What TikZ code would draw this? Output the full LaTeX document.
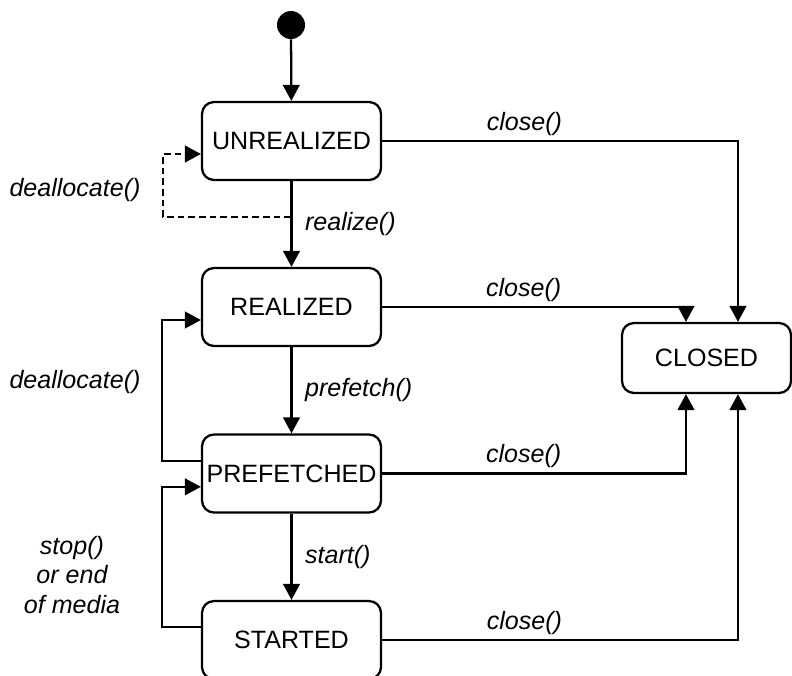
\documentclass[tikz,border=0pt]{standalone}
\usepackage{fontspec}
\setmainfont{Liberation Sans}
\usetikzlibrary{arrows.meta}

\begin{document}
\begin{tikzpicture}[x=0.75pt, y=-0.75pt,
    state/.style={draw, line width=1.7pt, rounded corners=9pt, inner sep=0pt,
      minimum width=134.25pt, minimum height=58.5pt,
      font=\fontsize{18.8}{22}\selectfont},
    trans/.style={line width=1.7pt, -{Triangle[length=12pt,width=12.5pt]}},
    lbl/.style={font=\fontsize{18.8}{21.8}\selectfont\itshape}]
    \useasboundingbox (0,0) rectangle (792,675);
    % States
    \node[circle, fill, minimum size=21pt, inner sep=0pt] (init) at (291,25) {};
    \node[state] (unreal) at (291.5,141) {UNREALIZED};
    \node[state] (real) at (291.5,307) {REALIZED};
    \node[state] (pref) at (291.5,473.5) {PREFETCHED};
    \node[state] (start) at (291.5,640) {STARTED};
    \node[state, minimum width=126.75pt, minimum height=52.5pt] (closed) at (706.5,358) {CLOSED};
    % Main chain
    \draw[trans] (init) -- (unreal);
    \draw[trans] (unreal) -- node[lbl, right=6pt] {realize()} (real);
    \draw[trans] (real) -- node[lbl, right=6pt] {prefetch()} (pref);
    \draw[trans] (pref) -- node[lbl, right=6pt] {start()} (start);
    % Going back
    \coordinate (dl) at (291,217);
    \draw[trans, dash pattern=on 5pt off 3pt] (dl) -- ++(-128,0) |- ([yshift=-9.75pt]unreal.west);
    \draw[trans] ([yshift=9.4pt]pref.west) -- ++(-39,0) |- ([yshift=-9.75pt]real.west);
    \draw[trans] ([yshift=9.75pt]start.west) -- ++(-39,0) |- ([yshift=-10pt]pref.west);
    \node[lbl] (dealloc1) at (75,190) {deallocate()};
    \node[lbl] (dealloc2) at (75,382) {deallocate()};
    \node[lbl, align=center] (stopmedia) at (72,575) {stop()\\or end\\of media};
    % Closing
    \draw[trans] (unreal.east) -| node[lbl, above, pos=0.2] {close()} ([xshift=23.6pt]closed.north);
    \draw[trans] (real.east) -| node[lbl, above, pos=0.233] {close()} ([xshift=-15.4pt]closed.north);
    \draw[trans] (pref.east) -| node[lbl, above, pos=0.233] {close()} ([xshift=-15.4pt]closed.south);
    \draw[trans] (start.east) -| node[lbl, above, pos=0.2] {close()} ([xshift=23.6pt]closed.south);
\end{tikzpicture}
\end{document}
